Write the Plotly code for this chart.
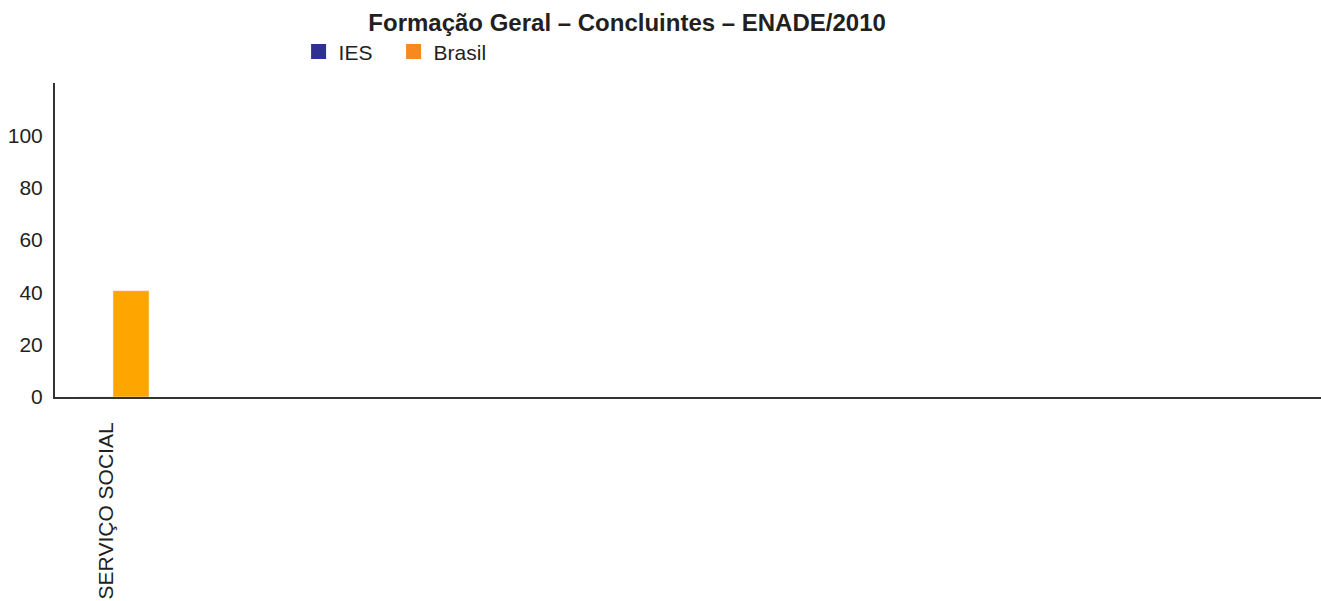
import plotly.graph_objects as go

categories = ["SERVIÇO SOCIAL"]
ies_values = [0]
brasil_values = [40.6]
series_names = ["IES", "Brasil"]
y_ticks = [0, 20, 40, 60, 80, 100]

fig = go.Figure()
fig.add_trace(go.Bar(x=categories, y=ies_values, name=series_names[0],
                     marker_color="#2e3192", showlegend=False))
fig.add_trace(go.Bar(x=categories, y=brasil_values, name=series_names[1],
                     marker_color="#ffa500", showlegend=False))
# legend entries (scatter so they do not affect bar grouping)
fig.add_trace(go.Scatter(x=[None], y=[None], mode="markers", name=series_names[0],
                         marker=dict(symbol="square", size=15, color="#2e3192")))
fig.add_trace(go.Scatter(x=[None], y=[None], mode="markers", name=series_names[1],
                         marker=dict(symbol="square", size=15, color="#f7891f")))

fig.update_layout(
    width=1321, height=601,
    paper_bgcolor="white", plot_bgcolor="white",
    margin=dict(l=55, r=0, t=83, b=204),
    barmode="group", bargap=0.38, bargroupgap=0,
    font=dict(family="Liberation Sans, Arial, sans-serif", size=21, color="#231f20"),
    title=dict(text="<b>Formação Geral – Concluintes – ENADE/2010</b>",
               x=0.4747, xanchor="center", y=0.963, yanchor="middle",
               font=dict(size=24, color="#231f20")),
    legend=dict(orientation="h", x=0.1924, xanchor="left", y=1.099, yanchor="middle",
                font=dict(size=21), entrywidth=50, traceorder="normal"),
    showlegend=True,
)
fig.update_xaxes(type="category", range=[-0.5, 10.41], tickangle=-90,
                 showline=True, linecolor="#333333", linewidth=2,
                 showgrid=False, ticks="", tickfont=dict(size=21),
                 ticklabelstandoff=15, ticklabelshift=-7)
fig.update_yaxes(range=[0, 120], tickvals=y_ticks, showline=True,
                 linecolor="#333333", linewidth=2, showgrid=False,
                 zeroline=False, ticks="", ticklabelstandoff=6)

post = ("document.body.style.margin='0';document.body.style.overflow='hidden';"
        "var gd=document.getElementById('{plot_id}');"
        "Plotly.relayout(gd,{width:1321,height:601});")
fig.write_html("out.html", post_script=post, config={"displayModeBar": False})
